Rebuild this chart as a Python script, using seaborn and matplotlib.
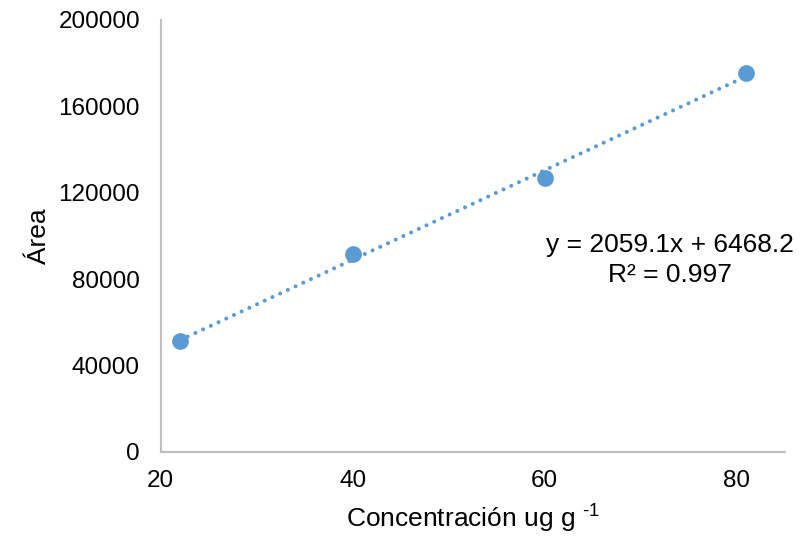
import matplotlib
matplotlib.use("Agg")
import matplotlib.pyplot as plt
import seaborn as sns
import pandas as pd

# Data
concentracion = [22, 40, 60, 81]
area = [51300, 91500, 126600, 175500]
x_ticks = [20, 40, 60, 80]
y_ticks = [0, 40000, 80000, 120000, 160000, 200000]
equation_text = "y = 2059.1x + 6468.2\nR² = 0.997"

sns.set_theme(style="white")
plt.rcParams["font.family"] = ["Liberation Sans", "DejaVu Sans"]
plt.rcParams["mathtext.fontset"] = "custom"
plt.rcParams["mathtext.rm"] = "Liberation Sans"
plt.rcParams["mathtext.it"] = "Liberation Sans"
plt.rcParams["mathtext.default"] = "regular"

df = pd.DataFrame({"conc": concentracion, "area": area})
color = "#5B9BD5"

fig = plt.figure(figsize=(8.08, 5.36), dpi=100)
ax = fig.add_axes([0.199, 0.157, 0.772, 0.806])

sns.regplot(data=df, x="conc", y="area", ax=ax, ci=None, color=color,
            scatter_kws=dict(s=145, alpha=1, linewidths=0, zorder=3),
            line_kws=dict(linestyle=(0, (0.01, 2.1)), lw=2.9,
                          dash_capstyle="round", zorder=2))

ax.set_xlim(20, 85)
ax.set_ylim(0, 200000)
ax.set_xticks(x_ticks)
ax.set_yticks(y_ticks)
ax.tick_params(axis="both", labelsize=17.5, colors="black", length=0)
ax.tick_params(axis="y", pad=15)
ax.tick_params(axis="x", pad=13)

for s in ["top", "right"]:
    ax.spines[s].set_visible(False)
for s in ["left", "bottom"]:
    ax.spines[s].set_color("#BFBFBF")
    ax.spines[s].set_linewidth(1.5)

ax.set_xlabel(r"Concentración ug g $^{\text{-}1}$", fontsize=19, labelpad=8, color="black")
ax.set_ylabel("Área", fontsize=19, labelpad=5, color="black")

ax.text(670 / 808, 1 - 260 / 536, equation_text, transform=fig.transFigure,
        ha="center", va="center", fontsize=19, color="black", linespacing=1.3)

fig.savefig("out.png", dpi=100)
